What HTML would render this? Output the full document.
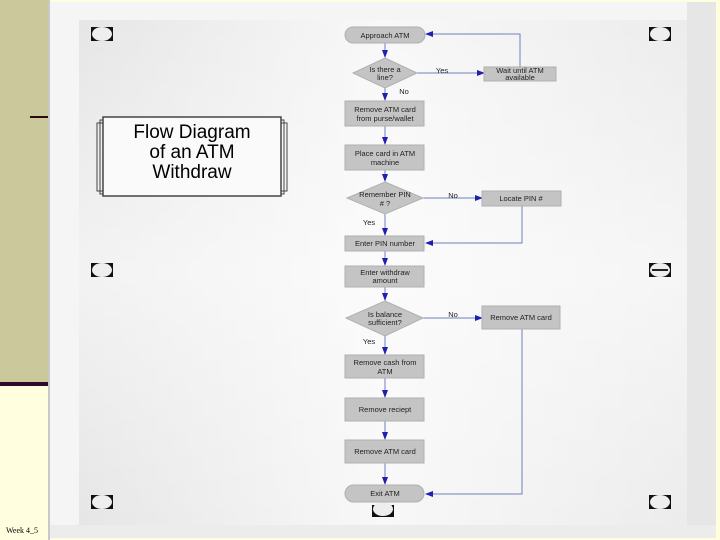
<!DOCTYPE html>
<html><head><meta charset="utf-8"><style>
html,body{margin:0;padding:0;}
body{width:720px;height:540px;position:relative;overflow:hidden;background:#ffffe0;font-family:"Liberation Sans",sans-serif;}
</style></head><body>
<svg width="720" height="540" viewBox="0 0 720 540" xmlns="http://www.w3.org/2000/svg" style="position:absolute;left:0;top:0">
<defs>
<linearGradient id="g" x1="0" y1="0" x2="1" y2="0">
<stop offset="0" stop-color="#e6e6e6"/><stop offset="0.5" stop-color="#f8f8f8"/><stop offset="1" stop-color="#ececec"/>
</linearGradient>
<linearGradient id="gv" x1="0" y1="0" x2="0" y2="1">
<stop offset="0" stop-color="#ffffff" stop-opacity="0"/><stop offset="0.5" stop-color="#ffffff" stop-opacity="0.5"/><stop offset="1" stop-color="#ffffff" stop-opacity="0"/>
</linearGradient>
<marker id="a" markerWidth="8" markerHeight="8" refX="7" refY="4" orient="auto" markerUnits="userSpaceOnUse">
<path d="M0,1 L8,4 L0,7 z" fill="#2020b0"/></marker>
</defs>
<rect x="0" y="0" width="48" height="382" fill="#cbc99c"/>
<rect x="0" y="382" width="48" height="4" fill="#2e0a2c"/>
<rect x="30" y="116" width="18" height="2" fill="#2a0a10"/>
<rect x="48" y="0" width="2" height="540" fill="#c8c8c8"/>
<rect x="50" y="2" width="666" height="536" fill="#f5f5f5"/>
<rect x="687" y="2" width="29" height="536" fill="#e6e6e6"/>
<rect x="50" y="525" width="666" height="13" fill="#ececec"/>
<rect x="79" y="20" width="608" height="505" fill="url(#g)"/>
<rect x="79" y="20" width="608" height="505" fill="url(#gv)"/>
<text x="6" y="533" font-size="8" font-family="Liberation Serif,serif" fill="#000">Week 4_5</text>

<!-- handles -->
<g fill="#111">
<rect x="91" y="27" width="22" height="14"/><rect x="649" y="27" width="22" height="14"/>
<rect x="91" y="263" width="22" height="14"/><rect x="649" y="263" width="22" height="14"/>
<rect x="91" y="495" width="22" height="14"/><rect x="649" y="495" width="22" height="14"/>
<rect x="372" y="505" width="22" height="12"/>
</g>
<g fill="#eee">
<ellipse cx="102" cy="34" rx="10" ry="7"/><ellipse cx="660" cy="34" rx="10" ry="7"/>
<ellipse cx="102" cy="270" rx="10" ry="7"/><ellipse cx="660" cy="270" rx="10" ry="7"/>
<ellipse cx="102" cy="502" rx="10" ry="7"/><ellipse cx="660" cy="502" rx="10" ry="7"/>
<ellipse cx="383" cy="509" rx="10" ry="7"/>
</g>
<rect x="652" y="269" width="16" height="2" fill="#222"/>

<!-- title -->
<rect x="97" y="123" width="190" height="68" fill="none" stroke="#444" stroke-width="1"/>
<rect x="100" y="120" width="184" height="74" fill="none" stroke="#444" stroke-width="1"/>
<rect x="103" y="117" width="178" height="79" fill="#fafafa" stroke="#444" stroke-width="1.5"/>
<g font-size="19" text-anchor="middle" fill="#000">
<text x="192" y="138">Flow Diagram</text>
<text x="192" y="158">of an ATM</text>
<text x="192" y="178">Withdraw</text>
</g>

<!-- connectors -->
<g stroke="#7080c0" stroke-width="1" fill="none">
<line x1="385" y1="43" x2="385" y2="57" marker-end="url(#a)"/>
<line x1="417" y1="73" x2="484" y2="73" marker-end="url(#a)"/>
<polyline points="520,67 520,34 426,34" marker-end="url(#a)"/>
<line x1="385" y1="88" x2="385" y2="100" marker-end="url(#a)"/>
<line x1="385" y1="126" x2="385" y2="144" marker-end="url(#a)"/>
<line x1="385" y1="170" x2="385" y2="181" marker-end="url(#a)"/>
<line x1="423" y1="198" x2="482" y2="198" marker-end="url(#a)"/>
<polyline points="522,206 522,243 426,243" marker-end="url(#a)"/>
<line x1="385" y1="214" x2="385" y2="235" marker-end="url(#a)"/>
<line x1="385" y1="251" x2="385" y2="265" marker-end="url(#a)"/>
<line x1="385" y1="287" x2="385" y2="300" marker-end="url(#a)"/>
<line x1="423" y1="318" x2="482" y2="318" marker-end="url(#a)"/>
<polyline points="522,329 522,494 426,494" marker-end="url(#a)"/>
<line x1="385" y1="336" x2="385" y2="354" marker-end="url(#a)"/>
<line x1="385" y1="378" x2="385" y2="397" marker-end="url(#a)"/>
<line x1="385" y1="421" x2="385" y2="439" marker-end="url(#a)"/>
<line x1="385" y1="463" x2="385" y2="484" marker-end="url(#a)"/>
</g>

<!-- nodes -->
<g fill="#c4c4c4" stroke="#b0b0b0" stroke-width="1">
<rect x="345" y="27" width="80" height="16" rx="8"/>
<polygon points="385,58 417,73 385,88 353,73"/>
<rect x="484" y="67" width="72" height="14"/>
<rect x="345" y="101" width="79" height="25"/>
<rect x="345" y="145" width="79" height="25"/>
<polygon points="385,182 423,198 385,214 347,198"/>
<rect x="482" y="191" width="79" height="15"/>
<rect x="345" y="236" width="79" height="15"/>
<rect x="345" y="266" width="79" height="21"/>
<polygon points="385,301 423,318 385,336 346,318"/>
<rect x="482" y="306" width="78" height="23"/>
<rect x="345" y="355" width="79" height="23"/>
<rect x="345" y="398" width="79" height="23"/>
<rect x="345" y="440" width="79" height="23"/>
<rect x="345" y="485" width="79" height="17" rx="8.5"/>
</g>
<g font-size="7.5" text-anchor="middle" fill="#222">
<text x="385" y="38">Approach ATM</text>
<text x="385" y="72">Is there a</text><text x="385" y="80">line?</text>
<text x="520" y="73">Wait until ATM</text><text x="520" y="80">available</text>
<text x="385" y="112">Remove ATM card</text><text x="385" y="121">from purse/wallet</text>
<text x="385" y="156">Place card in ATM</text><text x="385" y="165">machine</text>
<text x="385" y="197">Remember PIN</text><text x="385" y="206"># ?</text>
<text x="521" y="201">Locate PIN #</text>
<text x="385" y="246">Enter PIN number</text>
<text x="385" y="275">Enter withdraw</text><text x="385" y="283">amount</text>
<text x="385" y="317">Is balance</text><text x="385" y="325">sufficient?</text>
<text x="521" y="320">Remove ATM card</text>
<text x="385" y="365">Remove cash from</text><text x="385" y="374">ATM</text>
<text x="385" y="412">Remove reciept</text>
<text x="385" y="454">Remove ATM card</text>
<text x="385" y="496">Exit ATM</text>
<text x="442" y="73">Yes</text>
<text x="404" y="94">No</text>
<text x="453" y="198">No</text>
<text x="369" y="225">Yes</text>
<text x="453" y="317">No</text>
<text x="369" y="344">Yes</text>
</g>
</svg>
</body></html>
